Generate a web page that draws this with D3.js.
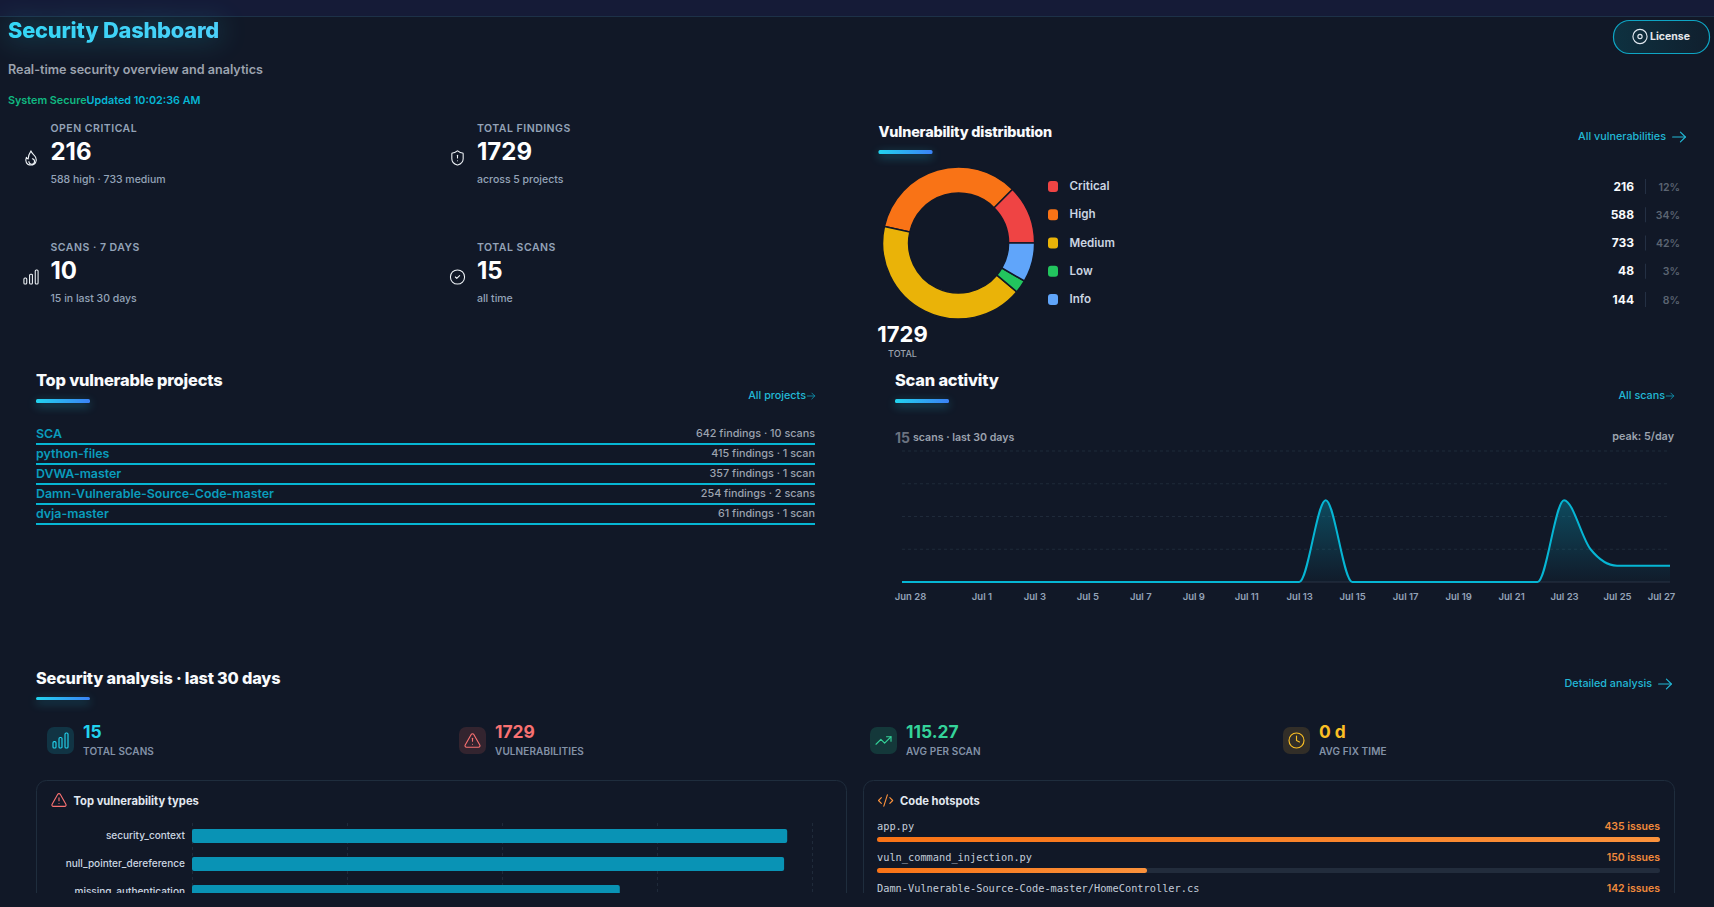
<!DOCTYPE html>
<html lang="en">
<head>
<meta charset="UTF-8">
<title>Security Dashboard</title>
<script src="https://d3js.org/d3.v7.min.js"></script>
<style>
  html, body { margin:0; padding:0; background:#111827; overflow:hidden; }
  svg { display:block; }
  text { font-family:Inter, "Noto Sans", sans-serif; dominant-baseline:central; }
  .heading { font-weight:800; fill:#f8fafc; letter-spacing:-0.2px; }
  .link { font-size:10.8px; font-weight:500; fill:#22b8d6; }
  .kpiLabel { font-size:10.5px; font-weight:600; fill:#94a3b8; letter-spacing:0.5px; }
  .kpiValue { font-size:24px; font-weight:700; fill:#fff; }
  .kpiSub { font-size:10.5px; font-weight:500; fill:#94a3b8; }
  .mono { font-family:"DejaVu Sans Mono", monospace; font-size:10.3px; fill:#c3ccd9; }
  .axisScan text { font-size:9.5px; font-weight:600; fill:#94a3b8; }
  .axisBars text { font-size:10.05px; font-weight:500; fill:#cbd5e1; }
</style>
</head>
<body>
<div id="chart"></div>
<script>
// values
var severityNames = ["Critical", "High", "Medium", "Low", "Info"];
var severityValues = [216, 588, 733, 48, 144];
var severityPct = ["12%", "34%", "42%", "3%", "8%"];

var kpiLabels = ["OPEN CRITICAL", "TOTAL FINDINGS", "SCANS · 7 DAYS", "TOTAL SCANS"];
var kpiValues = ["216", "1729", "10", "15"];
var kpiSubs = ["588 high · 733 medium", "across 5 projects", "15 in last 30 days", "all time"];

var projectNames = ["SCA", "python-files", "DVWA-master", "Damn-Vulnerable-Source-Code-master", "dvja-master"];
var projectStats = ["642 findings · 10 scans", "415 findings · 1 scan", "357 findings · 1 scan", "254 findings · 2 scans", "61 findings · 1 scan"];

var scanDays = ["Jun 28", "Jun 29", "Jun 30", "Jul 1", "Jul 2", "Jul 3", "Jul 4", "Jul 5", "Jul 6", "Jul 7",
  "Jul 8", "Jul 9", "Jul 10", "Jul 11", "Jul 12", "Jul 13", "Jul 14", "Jul 15", "Jul 16", "Jul 17",
  "Jul 18", "Jul 19", "Jul 20", "Jul 21", "Jul 22", "Jul 23", "Jul 24", "Jul 25", "Jul 26", "Jul 27"];
var scanCounts = [0, 0, 0, 0, 0, 0, 0, 0, 0, 0,
  0, 0, 0, 0, 0, 0, 5, 0, 0, 0,
  0, 0, 0, 0, 0, 5, 2, 1, 1, 1];
var scanTickLabels = ["Jun 28", "Jul 1", "Jul 3", "Jul 5", "Jul 7", "Jul 9", "Jul 11", "Jul 13", "Jul 15", "Jul 17", "Jul 19", "Jul 21", "Jul 23", "Jul 25", "Jul 27"];

var metricLabels = ["TOTAL SCANS", "VULNERABILITIES", "AVG PER SCAN", "AVG FIX TIME"];
var metricValues = ["15", "1729", "115.27", "0 d"];

var typeNames = ["security_context", "null_pointer_dereference", "missing_authentication"];
var typeCounts = [192, 191, 138];

var hotspotFiles = ["app.py", "vuln_command_injection.py", "Damn-Vulnerable-Source-Code-master/HomeController.cs"];
var hotspotIssues = [435, 150, 142];

var width = 1714, height = 907;
var bg = "#111827";

var svg = d3.select("#chart").append("svg").attr("width", width).attr("height", height);
var defs = svg.append("defs");

function gradient(id, x2, y2, stops) {
  var g = defs.append("linearGradient").attr("id", id).attr("x1", 0).attr("y1", 0).attr("x2", x2).attr("y2", y2);
  stops.forEach(function(s) {
    g.append("stop").attr("offset", s[0]).attr("stop-color", s[1]).attr("stop-opacity", s[2] === undefined ? 1 : s[2]);
  });
}
gradient("underline", 1, 0, [[0, "#22d3ee"], [1, "#3b82f6"]]);
gradient("titleFill", 1, 0, [[0, "#33d6f5"], [1, "#4bd0fa"]]);
gradient("hotspot", 1, 0, [[0, "#f97316"], [1, "#fb923c"]]);
gradient("licenseFill", 1, 0, [[0, "#0e3140"], [1, "#101f2e"]]);
gradient("scanArea", 0, 1, [[0, "#06b6d4", 0.32], [1, "#06b6d4", 0.02]]);
defs.append("clipPath").attr("id", "pageClip").append("rect").attr("width", width).attr("height", 893);

// lucide style icons, 24 unit box
var iconPaths = {
  flame: ["M12 2c.5 3 4.5 5.5 6.5 9 2 4 .5 11-6.5 11S3.5 16 5.5 11c.5 1.5 1.5 2.5 2.5 2.5C8 9 10 5 12 2z", "M14 13a4 4 0 1 1-5 4"],
  shield: ["M20 13c0 5-3.5 7.5-7.66 8.95a1 1 0 0 1-.67-.01C7.5 20.5 4 18 4 13V6a1 1 0 0 1 1-1c2 0 4.5-1.2 6.24-2.72a1.17 1.17 0 0 1 1.52 0C14.51 3.81 17 5 19 5a1 1 0 0 1 1 1z", "M12 8v4", "M12 16h.01"],
  bars: ["M2 15a1.5 1.5 0 0 1 1.5-1.5h1A1.5 1.5 0 0 1 6 15v5.5A1.5 1.5 0 0 1 4.5 22h-1A1.5 1.5 0 0 1 2 20.5z",
    "M10 9.5A1.5 1.5 0 0 1 11.5 8h1A1.5 1.5 0 0 1 14 9.5v11a1.5 1.5 0 0 1-1.5 1.5h-1a1.5 1.5 0 0 1-1.5-1.5z",
    "M18 3.5A1.5 1.5 0 0 1 19.5 2h1A1.5 1.5 0 0 1 22 3.5v17a1.5 1.5 0 0 1-1.5 1.5h-1a1.5 1.5 0 0 1-1.5-1.5z"],
  check: ["M22 12a10 10 0 1 1-20 0a10 10 0 1 1 20 0z", "m9 12 2 2 4-4"],
  eye: ["M22 12a10 10 0 1 1-20 0a10 10 0 1 1 20 0z", "M15 12a3 3 0 1 1-6 0a3 3 0 1 1 6 0z"],
  arrow: ["M3 12h18", "m14 5 7 7-7 7"],
  alert: ["m21.73 18-8-14a2 2 0 0 0-3.48 0l-8 14A2 2 0 0 0 4 21h16a2 2 0 0 0 1.73-3", "M12 9v4", "M12 17h.01"],
  trend: ["M22 7 13.5 15.5 8.5 10.5 2 17", "M16 7h6v6"],
  clock: ["M22 12a10 10 0 1 1-20 0a10 10 0 1 1 20 0z", "M12 6v6l4 2"],
  code: ["m18 16 4-4-4-4", "m6 8-4 4 4 4", "m14.5 4-5 16"]
};

function icon(parent, name, cx, cy, size, color, sw) {
  var g = parent.append("g")
    .attr("transform", "translate(" + (cx - size / 2) + "," + (cy - size / 2) + ") scale(" + size / 24 + ")")
    .attr("fill", "none").attr("stroke", color).attr("stroke-width", sw || 2)
    .attr("stroke-linecap", "round").attr("stroke-linejoin", "round");
  iconPaths[name].forEach(function(d) { g.append("path").attr("d", d); });
}

function label(parent, x, y, s, cls, anchor) {
  return parent.append("text").attr("x", x).attr("y", y).attr("class", cls || null)
    .attr("text-anchor", anchor || "start").text(s);
}

function sectionHead(x, y, title, size, underlineH) {
  label(svg, x, y, title, "heading").style("font-size", size + "px");
  svg.append("rect").attr("x", x).attr("y", y + 19).attr("width", 54).attr("height", underlineH)
    .attr("rx", 1.5).attr("fill", "url(#underline)")
    .style("filter", "drop-shadow(0 3px 5px rgba(34,211,238,.4))");
}

// page background + top strip
svg.append("rect").attr("width", width).attr("height", height).attr("fill", bg);
svg.append("rect").attr("width", width).attr("height", 16).attr("fill", "#151b37");
svg.append("rect").attr("y", 16).attr("width", width).attr("height", 1).attr("fill", "#1d3148");

// header
label(svg, 8, 30, "Security Dashboard").attr("fill", "url(#titleFill)")
  .style("font-size", "21.8px").style("font-weight", 800).style("letter-spacing", "-0.2px")
  .style("filter", "drop-shadow(0 0 14px rgba(34,211,238,.45))");
label(svg, 8, 69.5, "Real-time security overview and analytics")
  .attr("fill", "#9ca3af").style("font-size", "12.6px").style("font-weight", 600);
var statusLine = svg.append("text").attr("x", 8).attr("y", 100).style("font-size", "10.8px").style("font-weight", 600);
statusLine.append("tspan").attr("fill", "#10b981").text("System Secure");
statusLine.append("tspan").attr("fill", "#06b6d4").text("Updated 10:02:36 AM");

// license button
svg.append("rect").attr("x", 1613.5).attr("y", 20.5).attr("width", 96).attr("height", 33).attr("rx", 16)
  .attr("fill", "url(#licenseFill)").attr("stroke", "#0ea5c4").attr("stroke-width", 1.2);
icon(svg, "eye", 1640, 36.5, 17, "#e2e8f0", 1.6);
label(svg, 1650, 36.5, "License").attr("fill", "#e5e7eb").style("font-size", "10.5px").style("font-weight", 700);

// kpi cards
var kpiX = d3.scalePoint().domain(d3.range(2)).range([50.5, 477]);
var kpiY = d3.scalePoint().domain(d3.range(2)).range([128, 247]);
var kpiIcons = ["flame", "shield", "bars", "check"];
kpiLabels.forEach(function(k, i) {
  var x = kpiX(i % 2), y = kpiY(Math.floor(i / 2));
  icon(svg, kpiIcons[i], x - 19.5, y + 30, 17, "#f1f5f9", 1.5);
  label(svg, x, y, k, "kpiLabel");
  label(svg, x, y + 23.5, kpiValues[i], "kpiValue");
  label(svg, x, y + 51, kpiSubs[i], "kpiSub");
});

// distribution donut
sectionHead(878.5, 131, "Vulnerability distribution", 14.4, 4);
label(svg, 1666, 136, "All vulnerabilities", "link", "end");
icon(svg, "arrow", 1679, 137, 17, "#22b8d6", 1.6);

var severityColor = d3.scaleOrdinal().domain(severityNames).range(["#ef4444", "#f97316", "#eab308", "#22c55e", "#60a5fa"]);
// starts at 3 o'clock and runs counter clockwise
var pie = d3.pie().sort(null).startAngle(Math.PI / 2).endAngle(Math.PI / 2 - 2 * Math.PI);
var arc = d3.arc().innerRadius(50).outerRadius(76);
svg.append("g").attr("transform", "translate(958.6,243)")
  .selectAll("path").data(pie(severityValues)).enter().append("path")
  .attr("d", arc)
  .attr("fill", function(d, i) { return severityColor(severityNames[i]); })
  .attr("stroke", bg).attr("stroke-width", 1.5);

label(svg, 902.5, 334, "1729", null, "middle").attr("fill", "#fff").style("font-size", "22px").style("font-weight", 700);
label(svg, 902.5, 353, "TOTAL", null, "middle").attr("fill", "#9ca3af").style("font-size", "9px").style("font-weight", 500);

var legendY = d3.scalePoint().domain(severityNames).range([186, 299]);
var legend = svg.append("g").selectAll("g").data(severityNames).enter().append("g")
  .attr("transform", function(d) { return "translate(0," + legendY(d) + ")"; });
legend.append("rect").attr("x", 1048).attr("y", -5).attr("width", 10).attr("height", 11).attr("rx", 3)
  .attr("fill", function(d) { return severityColor(d); });
legend.append("text").attr("x", 1069.5).attr("fill", "#cbd5e1")
  .style("font-size", "11.6px").style("font-weight", 600).text(function(d) { return d; });
legend.append("text").attr("x", 1634).attr("text-anchor", "end").attr("fill", "#f8fafc")
  .style("font-size", "12px").style("font-weight", 700).text(function(d, i) { return severityValues[i]; });
legend.append("rect").attr("x", 1645).attr("y", -7).attr("width", 1).attr("height", 15).attr("fill", "#243044");
legend.append("text").attr("x", 1680).attr("y", 1).attr("text-anchor", "end").attr("fill", "#5b6472")
  .style("font-size", "10.5px").style("font-weight", 600).text(function(d, i) { return severityPct[i]; });

// projects list
sectionHead(36, 380, "Top vulnerable projects", 16.4, 4);
label(svg, 806, 395, "All projects", "link", "end").attr("fill", "#0ea5c4");
icon(svg, "arrow", 811, 396, 10, "#0ea5c4", 1.8);

var projectY = d3.scalePoint().domain(projectNames).range([433.5, 513.5]);
var rows = svg.append("g").selectAll("g").data(projectNames).enter().append("g")
  .attr("transform", function(d) { return "translate(0," + projectY(d) + ")"; });
rows.append("text").attr("x", 36).attr("fill", "#0a9cbc")
  .style("font-size", "12.4px").style("font-weight", 600).text(function(d) { return d; });
rows.append("text").attr("x", 815).attr("text-anchor", "end").attr("fill", "#9ca3af")
  .style("font-size", "10.8px").style("font-weight", 500).text(function(d, i) { return projectStats[i]; });
rows.append("rect").attr("x", 36).attr("y", 9.5).attr("width", 779).attr("height", 2).attr("fill", "#06b6d4");

// scan activity
sectionHead(895, 380, "Scan activity", 16.4, 4);
label(svg, 1665, 395, "All scans", "link", "end").attr("fill", "#0ea5c4");
icon(svg, "arrow", 1670, 396, 10, "#0ea5c4", 1.8);

var scanHead = svg.append("text").attr("x", 895).attr("y", 436.5).attr("fill", "#6b7280");
scanHead.append("tspan").style("font-size", "14px").style("font-weight", 700).text(d3.sum(scanCounts));
scanHead.append("tspan").attr("dx", 3).attr("fill", "#9ca3af").style("font-size", "10.6px").style("font-weight", 600).text("scans · last 30 days");
label(svg, 1674, 436.5, "peak: " + d3.max(scanCounts) + "/day", null, "end")
  .attr("fill", "#9ca3af").style("font-size", "10.8px").style("font-weight", 600);

var scanX = d3.scalePoint().domain(scanDays).range([902, 1670]);
var scanY = d3.scaleLinear().domain([0, 8]).range([582, 451]);

svg.append("g").selectAll("line").data(scanY.ticks(4).slice(1)).enter().append("line")
  .attr("x1", 902).attr("x2", 1670)
  .attr("y1", function(d) { return scanY(d); }).attr("y2", function(d) { return scanY(d); })
  .attr("stroke", "#1f2a3a").attr("stroke-dasharray", "3 3");
svg.append("line").attr("x1", 902).attr("x2", 1670).attr("y1", scanY(0)).attr("y2", scanY(0)).attr("stroke", "#2a3344");

var scanIdx = d3.range(scanDays.length);
var scanArea = d3.area().curve(d3.curveMonotoneX)
  .x(function(i) { return scanX(scanDays[i]); }).y0(scanY(0)).y1(function(i) { return scanY(scanCounts[i]); });
var scanLine = d3.line().curve(d3.curveMonotoneX)
  .x(function(i) { return scanX(scanDays[i]); }).y(function(i) { return scanY(scanCounts[i]); });
svg.append("path").datum(scanIdx).attr("d", scanArea).attr("fill", "url(#scanArea)");
svg.append("path").datum(scanIdx).attr("d", scanLine).attr("fill", "none").attr("stroke", "#06b6d4").attr("stroke-width", 2);

var scanAxis = svg.append("g").attr("class", "axisScan").attr("transform", "translate(0,582)")
  .call(d3.axisBottom(scanX).tickValues(scanTickLabels).tickSize(0).tickPadding(10));
scanAxis.select(".domain").remove();
scanAxis.selectAll("text").style("dominant-baseline", "auto").attr("dy", "0.8em");
// first and last labels are pushed inside the frame
scanAxis.selectAll(".tick").filter(function(d) { return d == "Jun 28"; }).select("text").attr("dx", 8);
scanAxis.selectAll(".tick").filter(function(d) { return d == "Jul 27"; }).select("text").attr("dx", -9);

// security analysis
sectionHead(36, 678, "Security analysis · last 30 days", 16.3, 3);
label(svg, 1652, 683, "Detailed analysis", "link", "end");
icon(svg, "arrow", 1665, 684, 17, "#22b8d6", 1.6);

var metricIcons = ["bars", "alert", "trend", "clock"];
var metricColors = ["#22d3ee", "#f87171", "#34d399", "#fbbf24"];
var metricTints = ["#113444", "#33242f", "#14383a", "#322e28"];
var metricX = [47, 459, 870, 1283];
metricLabels.forEach(function(m, i) {
  var x = metricX[i];
  svg.append("rect").attr("x", x).attr("y", 727).attr("width", 27).attr("height", 27).attr("rx", 7).attr("fill", metricTints[i]);
  icon(svg, metricIcons[i], x + 13.5, 740.5, 18, metricColors[i], 1.5);
  label(svg, x + 36, 731.5, metricValues[i]).attr("fill", metricColors[i]).style("font-size", "17.4px").style("font-weight", 700);
  label(svg, x + 36, 751, m).attr("fill", "#8392a7").style("font-size", "10px").style("font-weight", 600).style("letter-spacing", "0.1px");
});

// lower panels, cut off by the scroll area
var lower = svg.append("g").attr("clip-path", "url(#pageClip)");
lower.append("rect").attr("x", 36.5).attr("y", 780.5).attr("width", 810).attr("height", 200).attr("rx", 10)
  .attr("fill", "none").attr("stroke", "#1f2d3d");
lower.append("rect").attr("x", 863.5).attr("y", 780.5).attr("width", 811).attr("height", 200).attr("rx", 10)
  .attr("fill", "none").attr("stroke", "#1f2d3d");

icon(lower, "alert", 59, 800, 17, "#f87171", 1.6);
label(lower, 73.5, 801, "Top vulnerability types").attr("fill", "#e2e8f0").style("font-size", "11.2px").style("font-weight", 700);
icon(lower, "code", 885.6, 800.5, 17, "#fb923c", 1.6);
label(lower, 900, 801, "Code hotspots").attr("fill", "#e2e8f0").style("font-size", "11.2px").style("font-weight", 700);

// vulnerability types bars
var typeX = d3.scaleLinear().domain([0, 200]).range([192, 812]);
var typeY = d3.scaleBand().domain(typeNames).range([822, 906]).paddingInner(0.5).paddingOuter(0.25);

var typeGrid = lower.append("g").attr("transform", "translate(0,823)")
  .call(d3.axisBottom(typeX).tickValues(d3.range(0, 201, 50)).tickSize(80).tickFormat(""));
typeGrid.select(".domain").remove();
typeGrid.selectAll("line").attr("stroke", "#1f2a3a").attr("stroke-dasharray", "3 3");

lower.append("g").selectAll("rect").data(typeCounts).enter().append("rect")
  .attr("x", typeX(0))
  .attr("y", function(d, i) { return typeY(typeNames[i]); })
  .attr("width", function(d) { return typeX(d) - typeX(0); })
  .attr("height", typeY.bandwidth())
  .attr("rx", 2).attr("fill", "#0993b5");

var typeAxis = lower.append("g").attr("class", "axisBars").attr("transform", "translate(192,0)")
  .call(d3.axisLeft(typeY).tickSize(0).tickPadding(7));
typeAxis.select(".domain").remove();
typeAxis.selectAll("text").style("dominant-baseline", "auto");

// hotspots
var hotspotX = d3.scaleLinear().domain([0, d3.max(hotspotIssues)]).range([877, 1660]);
var hotspotY = d3.scalePoint().domain(hotspotFiles).range([826, 888]);
var spots = lower.append("g").selectAll("g").data(hotspotFiles).enter().append("g")
  .attr("transform", function(d) { return "translate(0," + hotspotY(d) + ")"; });
spots.append("text").attr("x", 877).attr("class", "mono").text(function(d) { return d; });
spots.append("text").attr("x", 1660).attr("text-anchor", "end").attr("fill", "#f08a3c")
  .style("font-size", "10.5px").style("font-weight", 600).text(function(d, i) { return hotspotIssues[i] + " issues"; });
spots.append("rect").attr("x", 877).attr("y", 11).attr("width", 783).attr("height", 5).attr("rx", 2.5).attr("fill", "#222c3c");
spots.append("rect").attr("x", 877).attr("y", 11)
  .attr("width", function(d, i) { return hotspotX(hotspotIssues[i]) - hotspotX(0); })
  .attr("height", 5).attr("rx", 2.5).attr("fill", "url(#hotspot)");
</script>
</body>
</html>
